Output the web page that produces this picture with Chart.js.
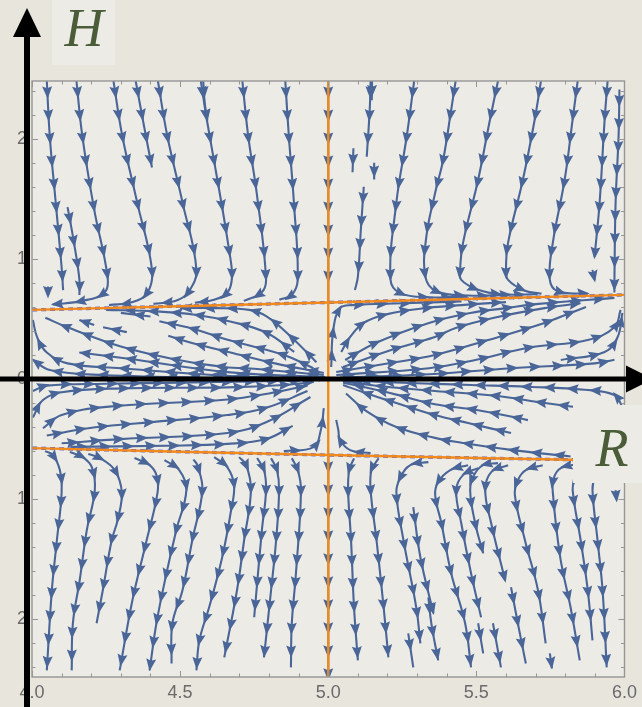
<!DOCTYPE html>
<html>
<head>
<meta charset="utf-8">
<script src="https://cdn.jsdelivr.net/npm/chart.js@4.4.1/dist/chart.umd.min.js"></script>
<style>
  html, body { margin: 0; padding: 0; background: #e8e5dc; }
  #flow { display: block; }
</style>
</head>
<body>
<canvas id="flow" width="642" height="707"></canvas>
<script>
// axis ticks
const xTickValues = [4, 4.5, 5, 5.5, 6];
const xTickLabels = ['4.0', '4.5', '5.0', '5.5', '6.0'];
const yTickValues = [-2, -1, 0, 1, 2];
const yTickLabels = ['2', '1', '0', '1', '2'];

// nullclines (orange)
const upperCurve = [[4.0, 0.575], [5.0, 0.637], [6.0, 0.70]];
const lowerCurve = [[4.0, -0.575], [5.0, -0.633], [6.0, -0.68]];
const centerLine = [[5.0, 2.48], [5.0, -2.48]];

// streamlines, each listed in flow order as [R, H]
const topStreams = [
  [[4.05, 2.48], [4.06, 2.02], [4.08, 1.47], [4.10, 0.93], [4.105, 0.74]],
  [[4.054, 0.77], [4.054, 0.70]],
  [[4.12, 1.43], [4.14, 1.16], [4.16, 0.83], [4.16, 0.70]],
  [[4.15, 2.48], [4.17, 2.02], [4.21, 1.41], [4.255, 0.85], [4.245, 0.72], [4.17, 0.65], [4.07, 0.62]],
  [[4.275, 2.48], [4.305, 2.02], [4.355, 1.47], [4.405, 0.91], [4.39, 0.72], [4.34, 0.64], [4.26, 0.615]],
  [[4.35, 2.48], [4.38, 2.08], [4.405, 1.76]],
  [[4.425, 2.48], [4.457, 2.02], [4.508, 1.47], [4.555, 0.91], [4.53, 0.73], [4.49, 0.655], [4.41, 0.625]],
  [[4.57, 2.48], [4.59, 2.16], [4.63, 1.6], [4.665, 1.075], [4.675, 0.85], [4.66, 0.72], [4.615, 0.66], [4.55, 0.635]],
  [[4.578, 2.48], [4.583, 2.3], [4.592, 2.15]],
  [[4.71, 2.48], [4.73, 2.02], [4.76, 1.52], [4.79, 0.83], [4.775, 0.72], [4.715, 0.65]],
  [[4.855, 2.48], [4.867, 2.02], [4.884, 1.47], [4.897, 0.83], [4.877, 0.70], [4.835, 0.66]],
  [[5.0, 2.48], [5.0, 0.65]],
  [[5.143, 2.48], [5.14, 2.24], [5.13, 1.85]],
  [[5.148, 2.48], [5.147, 2.32]],
  [[5.085, 1.92], [5.082, 1.72]],
  [[5.155, 1.80], [5.155, 1.66]],
  [[5.12, 1.60], [5.11, 1.24], [5.10, 0.85], [5.09, 0.74]],
  [[5.29, 2.48], [5.265, 2.02], [5.23, 1.47], [5.21, 0.83], [5.243, 0.715], [5.345, 0.68], [5.47, 0.685]],
  [[5.43, 2.48], [5.415, 2.24], [5.388, 1.825], [5.361, 1.55], [5.331, 1.183], [5.328, 0.85], [5.365, 0.73], [5.472, 0.695], [5.607, 0.70]],
  [[5.573, 2.48], [5.546, 2.16], [5.506, 1.658], [5.455, 1.133], [5.445, 0.908], [5.449, 0.825], [5.506, 0.742], [5.583, 0.705], [5.707, 0.705]],
  [[5.718, 2.48], [5.697, 2.16], [5.657, 1.658], [5.607, 1.133], [5.60, 0.908], [5.607, 0.825], [5.664, 0.735], [5.72, 0.71]],
  [[5.842, 2.48], [5.825, 2.16], [5.798, 1.658], [5.758, 1.133], [5.748, 0.825], [5.775, 0.73], [5.876, 0.71]],
  [[5.943, 2.48], [5.933, 2.16], [5.916, 1.467], [5.899, 1.017]],
  [[5.892, 0.908], [5.899, 0.825]],
  [[5.983, 2.41], [5.98, 2.02], [5.97, 1.467], [5.966, 0.808], [5.966, 0.72]]
];

const upperLeftStreams = [
  [[4.96, 0.14], [4.875, 0.35], [4.793, 0.52], [4.733, 0.575], [4.62, 0.59], [4.50, 0.59]],
  [[4.885, 0.225], [4.793, 0.383], [4.676, 0.475], [4.55, 0.535], [4.40, 0.565], [4.25, 0.575]],
  [[4.95, 0.09], [4.85, 0.20], [4.67, 0.32], [4.54, 0.42], [4.43, 0.48]],
  [[4.985, 0.05], [4.82, 0.13], [4.67, 0.22], [4.54, 0.30], [4.46, 0.36]],
  [[4.985, 0.033], [4.76, 0.083], [4.65, 0.10], [4.49, 0.16], [4.30, 0.27], [4.12, 0.43], [4.045, 0.51]],
  [[4.99, 0.017], [4.67, 0.055], [4.32, 0.17], [4.16, 0.22]],
  [[4.97, 0.005], [4.67, 0.025], [4.30, 0.09], [4.12, 0.13], [4.05, 0.22], [4.017, 0.35], [4.003, 0.49]],
  [[4.90, 0.003], [4.67, 0.008], [4.24, 0.033], [4.06, 0.075], [4.003, 0.16]],
  [[4.32, 0.39], [4.24, 0.43]],
  [[4.21, 0.45], [4.16, 0.49]],
  [[4.40, 0.52], [4.30, 0.55]]
];

const upperRightStreams = [
  [[5.01, 0.10], [5.017, 0.41], [5.04, 0.59], [5.08, 0.615], [5.25, 0.63], [5.45, 0.645]],
  [[5.044, 0.225], [5.074, 0.35], [5.12, 0.467], [5.2, 0.54], [5.31, 0.585], [5.45, 0.615], [5.6, 0.64]],
  [[5.057, 0.158], [5.16, 0.30], [5.34, 0.467], [5.48, 0.55], [5.6, 0.59], [5.71, 0.625], [5.966, 0.675]],
  [[5.05, 0.10], [5.21, 0.24], [5.36, 0.35], [5.43, 0.425], [5.56, 0.51], [5.73, 0.59], [5.85, 0.63]],
  [[5.027, 0.058], [5.21, 0.133], [5.36, 0.20], [5.54, 0.325], [5.73, 0.467], [5.818, 0.55], [5.87, 0.60]],
  [[5.027, 0.033], [5.34, 0.09], [5.50, 0.16], [5.675, 0.26], [5.876, 0.325], [5.966, 0.43], [5.987, 0.575]],
  [[5.04, 0.012], [5.34, 0.04], [5.617, 0.09], [5.9, 0.13], [5.966, 0.16]],
  [[5.785, 0.158], [5.933, 0.225], [5.977, 0.35], [5.993, 0.55]]
];

const lowerLeftStreams = [
  [[4.003, -0.10], [4.05, -0.055], [4.25, -0.04], [4.5, -0.03], [4.75, -0.02], [4.93, -0.008]],
  [[4.003, -0.32], [4.037, -0.175], [4.10, -0.11], [4.30, -0.078], [4.66, -0.07], [4.85, -0.05], [4.95, -0.025]],
  [[4.037, -0.41], [4.10, -0.30], [4.26, -0.23], [4.66, -0.17], [4.80, -0.12], [4.93, -0.055]],
  [[4.05, -0.47], [4.19, -0.41], [4.35, -0.37], [4.66, -0.30], [4.79, -0.24], [4.93, -0.10]],
  [[4.10, -0.535], [4.30, -0.50], [4.66, -0.45], [4.79, -0.36], [4.94, -0.15]],
  [[4.13, -0.565], [4.45, -0.555], [4.66, -0.54], [4.79, -0.50], [4.88, -0.39]],
  [[4.85, -0.60], [4.95, -0.567], [4.975, -0.425], [4.985, -0.242]]
];

const lowerRightStreams = [
  [[5.993, -0.233], [5.966, -0.133], [5.866, -0.09], [5.674, -0.065], [5.483, -0.05], [5.30, -0.035], [5.10, -0.015], [5.04, -0.006]],
  [[5.832, -0.233], [5.731, -0.20], [5.563, -0.14], [5.36, -0.10], [5.18, -0.06], [5.05, -0.02]],
  [[5.674, -0.342], [5.506, -0.26], [5.36, -0.21], [5.23, -0.13], [5.12, -0.067], [5.05, -0.03]],
  [[5.617, -0.45], [5.472, -0.367], [5.36, -0.30], [5.23, -0.20], [5.13, -0.12], [5.05, -0.05]],
  [[5.818, -0.645], [5.617, -0.59], [5.45, -0.53], [5.36, -0.49], [5.23, -0.40], [5.13, -0.27], [5.06, -0.12]],
  [[5.143, -0.617], [5.074, -0.592], [5.04, -0.508], [5.034, -0.425], [5.027, -0.34]]
];

const bottomStreams = [
  [[4.044, -0.60], [4.07, -0.633], [4.094, -0.758], [4.10, -0.942], [4.084, -1.342], [4.067, -1.758], [4.05, -2.425]],
  [[4.128, -0.608], [4.171, -0.65], [4.202, -0.733], [4.212, -0.925], [4.185, -1.258], [4.161, -1.675], [4.138, -2.033], [4.134, -2.425]],
  [[4.19, -0.625], [4.229, -0.658], [4.279, -0.758], [4.303, -0.942], [4.289, -1.175], [4.269, -1.342], [4.239, -1.758], [4.218, -2.033]],
  [[4.346, -0.658], [4.397, -0.717], [4.42, -0.80], [4.424, -0.942], [4.387, -1.342], [4.339, -1.842], [4.296, -2.425]],
  [[4.447, -0.675], [4.497, -0.758], [4.521, -0.925], [4.487, -1.258], [4.454, -1.617], [4.42, -2.033], [4.397, -2.425]],
  [[4.545, -0.67], [4.558, -0.717], [4.575, -0.925], [4.541, -1.342], [4.508, -1.758], [4.474, -2.033], [4.471, -2.367]],
  [[4.615, -0.65], [4.659, -0.733], [4.682, -0.883], [4.672, -1.092], [4.642, -1.483], [4.598, -1.9], [4.565, -2.175], [4.555, -2.425]],
  [[4.699, -0.65], [4.723, -0.717], [4.739, -0.925], [4.716, -1.342], [4.692, -1.758], [4.649, -2.317]],
  [[4.76, -0.658], [4.783, -0.758], [4.79, -0.925], [4.776, -1.258], [4.75, -1.983]],
  [[4.807, -0.66], [4.827, -0.758], [4.834, -0.925], [4.824, -1.342], [4.807, -1.758], [4.783, -2.317]],
  [[4.877, -0.66], [4.897, -0.758], [4.908, -0.925], [4.891, -1.617], [4.877, -2.033], [4.874, -2.4]],
  [[5.0, -0.64], [5.0, -2.48]],
  [[5.087, -0.66], [5.071, -0.758], [5.067, -0.925], [5.077, -1.342], [5.087, -1.9], [5.10, -2.342]],
  [[5.17, -0.66], [5.146, -0.758], [5.143, -0.925], [5.163, -1.342], [5.187, -1.9], [5.203, -2.317]],
  [[5.338, -0.692], [5.277, -0.717], [5.244, -0.817], [5.23, -0.942], [5.254, -1.342], [5.297, -1.9], [5.311, -2.2]],
  [[5.287, -1.067], [5.311, -1.483], [5.355, -1.95]],
  [[5.27, -2.117], [5.287, -2.4]],
  [[5.472, -0.717], [5.412, -0.758], [5.371, -0.858], [5.361, -0.967], [5.382, -1.2], [5.415, -1.617], [5.462, -2.033], [5.482, -2.4]],
  [[5.506, -0.742], [5.455, -0.80], [5.432, -0.925], [5.449, -1.2], [5.482, -1.617], [5.516, -1.983]],
  [[5.573, -0.70], [5.523, -0.717], [5.492, -0.80], [5.479, -0.925], [5.496, -1.2], [5.523, -1.45]],
  [[5.607, -0.717], [5.55, -0.775], [5.53, -0.925], [5.55, -1.2], [5.597, -1.675]],
  [[5.338, -1.817], [5.348, -2.033], [5.371, -2.342]],
  [[5.506, -2.033], [5.523, -2.283]],
  [[5.556, -2.033], [5.583, -2.4]],
  [[5.617, -1.733], [5.64, -2.033], [5.667, -2.367]],
  [[5.724, -0.717], [5.667, -0.758], [5.64, -0.842], [5.63, -0.967], [5.664, -1.342], [5.708, -1.758], [5.734, -2.2]],
  [[5.748, -2.283], [5.755, -2.408]],
  [[5.842, -0.708], [5.785, -0.742], [5.761, -0.825], [5.758, -0.942], [5.783, -1.483], [5.818, -1.9], [5.849, -2.342]],
  [[5.859, -0.758], [5.832, -0.842], [5.825, -0.925], [5.852, -1.342], [5.876, -1.758], [5.892, -2.175]],
  [[5.93, -0.75], [5.90, -0.83], [5.892, -0.925], [5.909, -1.342], [5.926, -1.758], [5.94, -2.4]],
  [[5.97, -0.925], [5.973, -1.0]]
];

const streamBlue = '#4a6698';
const nullOrange = '#f28a1b';

function toPoints(line) {
  return line.map(([x, y]) => ({ x, y }));
}

function streamDatasets(lines) {
  return lines.map(line => ({
    data: toPoints(line),
    borderColor: streamBlue,
    borderWidth: 2.1,
    tension: 0.4,
    fill: false,
    order: 2,
    arrows: true
  }));
}

const allStreams = [].concat(topStreams, upperLeftStreams, upperRightStreams,
  lowerLeftStreams, lowerRightStreams, bottomStreams);

const datasets = [
  { data: toPoints(centerLine), borderColor: nullOrange, borderWidth: 2.4, order: 0 },
  { data: toPoints(upperCurve), borderColor: nullOrange, borderWidth: 2.4, tension: 0.4, order: 0 },
  { data: toPoints(lowerCurve), borderColor: nullOrange, borderWidth: 2.4, tension: 0.4, order: 0 },
  { data: toPoints(upperCurve), borderColor: '#5a62d0', borderWidth: 3.2, borderDash: [5, 4], tension: 0.4, order: 1 },
  { data: toPoints(lowerCurve), borderColor: '#5a62d0', borderWidth: 3.2, borderDash: [5, 4], tension: 0.4, order: 1 }
].concat(streamDatasets(allStreams));

// page and plot backgrounds
const backdrop = {
  id: 'backdrop',
  beforeDraw(chart) {
    const { ctx, chartArea: a } = chart;
    ctx.save();
    ctx.fillStyle = '#e8e5dc';
    ctx.fillRect(0, 0, chart.width, chart.height);
    ctx.fillStyle = '#ecebe6';
    ctx.fillRect(a.left, a.top, a.right - a.left, a.bottom - a.top);
    ctx.restore();
  }
};

// arrowheads spaced along every streamline, following the drawn bezier path
const streamArrows = {
  id: 'streamArrows',
  afterDatasetDraw(chart, args) {
    const ds = chart.data.datasets[args.index];
    if (!ds.arrows) return;
    const pts = args.meta.data;
    if (pts.length < 2) return;
    const path = [];
    for (let i = 0; i < pts.length - 1; i++) {
      const a = pts[i], b = pts[i + 1];
      const c1x = a.cp2x ?? a.x, c1y = a.cp2y ?? a.y;
      const c2x = b.cp1x ?? b.x, c2y = b.cp1y ?? b.y;
      for (let k = i ? 1 : 0; k <= 16; k++) {
        const t = k / 16, u = 1 - t;
        path.push([
          u * u * u * a.x + 3 * u * u * t * c1x + 3 * u * t * t * c2x + t * t * t * b.x,
          u * u * u * a.y + 3 * u * u * t * c1y + 3 * u * t * t * c2y + t * t * t * b.y
        ]);
      }
    }
    const dist = [0];
    for (let i = 1; i < path.length; i++) {
      dist.push(dist[i - 1] + Math.hypot(path[i][0] - path[i - 1][0], path[i][1] - path[i - 1][1]));
    }
    const total = dist[dist.length - 1];
    const spacing = 23;
    const marks = [];
    if (total < 16) {
      marks.push(total * 0.6);
    } else {
      for (let d = Math.min(11, total / 2); d < total - 3; d += spacing) marks.push(d);
    }
    const at = d => {
      let i = 1;
      while (i < dist.length - 1 && dist[i] < d) i++;
      const seg = dist[i] - dist[i - 1] || 1;
      const t = (d - dist[i - 1]) / seg;
      return [path[i - 1][0] + (path[i][0] - path[i - 1][0]) * t,
              path[i - 1][1] + (path[i][1] - path[i - 1][1]) * t];
    };
    const { ctx, chartArea: area } = chart;
    ctx.save();
    ctx.beginPath();
    ctx.rect(area.left, area.top, area.right - area.left, area.bottom - area.top);
    ctx.clip();
    ctx.fillStyle = streamBlue;
    const L = 12.5, W = 5;
    marks.forEach(d => {
      const p = at(d);
      const p0 = at(Math.max(0, d - 3));
      const p1 = at(Math.min(total, d + 3));
      let ux = p1[0] - p0[0], uy = p1[1] - p0[1];
      const n = Math.hypot(ux, uy) || 1;
      ux /= n; uy /= n;
      const nx = -uy, ny = ux;
      ctx.beginPath();
      ctx.moveTo(p[0] + ux * L * 0.55, p[1] + uy * L * 0.55);
      ctx.lineTo(p[0] - ux * L * 0.45 + nx * W, p[1] - uy * L * 0.45 + ny * W);
      ctx.lineTo(p[0] - ux * L * 0.3, p[1] - uy * L * 0.3);
      ctx.lineTo(p[0] - ux * L * 0.45 - nx * W, p[1] - uy * L * 0.45 - ny * W);
      ctx.closePath();
      ctx.fill();
    });
    ctx.restore();
  }
};

// frame with inward ticks, black coordinate axes and the H / R labels
const overlay = {
  id: 'overlay',
  afterDraw(chart) {
    const { ctx, chartArea: a, scales } = chart;
    const xs = scales.x, ys = scales.y;
    ctx.save();
    ctx.strokeStyle = '#969696';
    ctx.lineWidth = 1.4;
    ctx.strokeRect(a.left, a.top, a.right - a.left, a.bottom - a.top);
    ctx.lineWidth = 1;
    ctx.beginPath();
    for (let i = 0; i <= 20; i++) {
      const px = Math.round(xs.getPixelForValue(4 + i * 0.1)) + 0.5;
      const len = i % 5 === 0 ? 6 : 3.5;
      ctx.moveTo(px, a.bottom); ctx.lineTo(px, a.bottom - len);
      ctx.moveTo(px, a.top); ctx.lineTo(px, a.top + len);
    }
    for (let i = -12; i <= 12; i++) {
      const py = Math.round(ys.getPixelForValue(i * 0.2)) + 0.5;
      const len = i % 5 === 0 ? 6 : 3.5;
      ctx.moveTo(a.left, py); ctx.lineTo(a.left + len, py);
      ctx.moveTo(a.right, py); ctx.lineTo(a.right - len, py);
    }
    ctx.stroke();

    // coordinate axes
    const y0 = ys.getPixelForValue(0);
    const axX = 27;
    ctx.fillStyle = '#000';
    ctx.fillRect(axX - 3, 34, 6, chart.height - 34);
    ctx.beginPath();
    ctx.moveTo(axX, 8); ctx.lineTo(axX + 14, 37); ctx.lineTo(axX - 14, 37);
    ctx.closePath(); ctx.fill();
    ctx.fillRect(0, y0 - 2.5, 630, 5);
    ctx.beginPath();
    ctx.moveTo(653, y0); ctx.lineTo(626, y0 - 13.5); ctx.lineTo(626, y0 + 13.5);
    ctx.closePath(); ctx.fill();

    // label boxes
    ctx.fillStyle = '#ecebe6';
    ctx.fillRect(52, 0, 63, 65);
    ctx.fillRect(573, 405, 69, 78);
    ctx.fillStyle = '#4a5c38';
    ctx.font = 'italic 54px "Liberation Serif", "Times New Roman", serif';
    ctx.textAlign = 'center';
    ctx.textBaseline = 'alphabetic';
    ctx.fillText('H', 84, 46);
    ctx.fillText('R', 612, 466);
    ctx.restore();
  }
};

const tickFont = { family: '"Liberation Sans", Arial, sans-serif', size: 18 };

new Chart(document.getElementById('flow'), {
  type: 'line',
  data: { datasets },
  options: {
    responsive: false,
    animation: false,
    events: [],
    layout: { padding: { top: 81, right: 15, left: 0, bottom: 0 } },
    plugins: { legend: { display: false }, tooltip: { enabled: false } },
    elements: { point: { radius: 0 }, line: { capBezierPoints: true } },
    scales: {
      x: {
        type: 'linear', min: 4, max: 6,
        grid: { display: false, drawTicks: false },
        border: { display: false },
        afterBuildTicks: s => { s.ticks = xTickValues.map(v => ({ value: v })); },
        afterFit: s => { s.height = 30; },
        ticks: {
          padding: 5, color: '#6a6a6a', font: tickFont, autoSkip: false, maxRotation: 0,
          callback: v => xTickLabels[xTickValues.indexOf(v)]
        }
      },
      y: {
        type: 'linear', min: -2.48, max: 2.48,
        grid: { display: false, drawTicks: false },
        border: { display: false },
        afterBuildTicks: s => { s.ticks = yTickValues.map(v => ({ value: v })); },
        afterFit: s => { s.width = 32; },
        ticks: {
          padding: 5, color: '#6a6a6a', font: tickFont, autoSkip: false,
          callback: v => yTickLabels[yTickValues.indexOf(v)]
        }
      }
    }
  },
  plugins: [backdrop, streamArrows, overlay]
});
</script>
</body>
</html>
